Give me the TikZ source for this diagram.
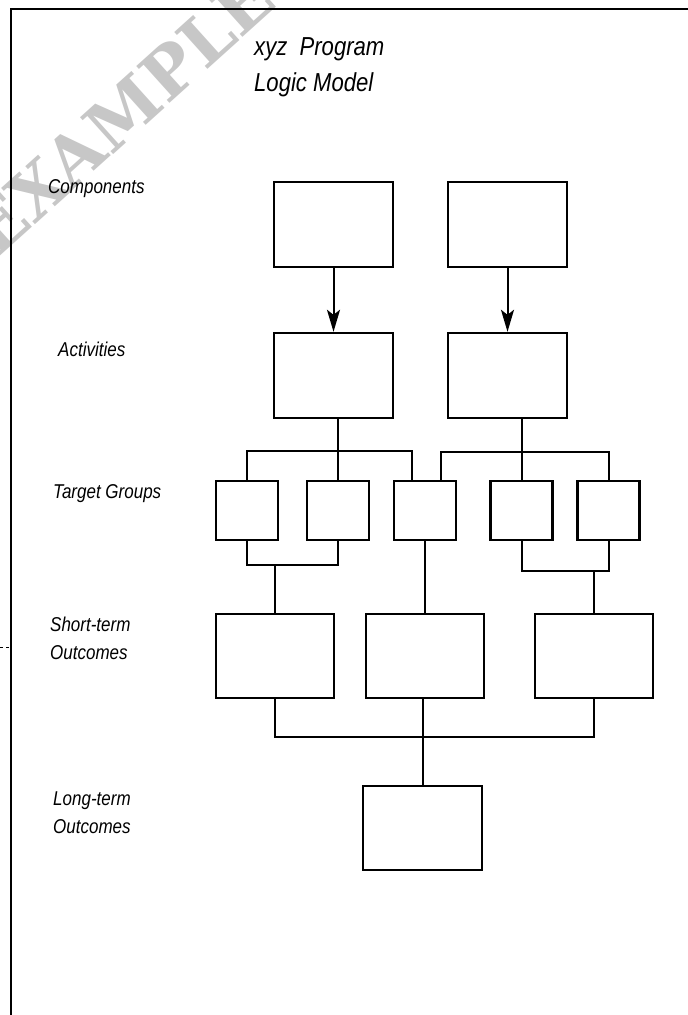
\documentclass[tikz,border=0pt]{standalone}
\usepackage{fontspec}
\usetikzlibrary{arrows.meta}
\newfontfamily\handfont{Liberation Sans}[FakeStretch=0.85]
\newfontfamily\stampfont{DejaVu Serif}
\tikzset{
	box/.style={draw, line width=2.4pt, minimum width=119pt, minimum height=85pt, inner sep=0pt},
	grp/.style={box, minimum width=62pt, minimum height=59pt},
	link/.style={line width=2pt},
	arrow/.style={link, -{Stealth[length=22pt,width=13pt,inset=5pt]}},
	rowname/.style={font=\handfont\itshape\fontsize{20}{28}\selectfont, inner sep=0pt, align=left},
}

\begin{document}
\begin{tikzpicture}[x=1pt,y=-1pt]
				\useasboundingbox (0,0) rectangle (688,1015);
				\clip (0,0) rectangle (688,1015);
				
				\node[rotate=42, text=black!22, font=\stampfont\bfseries\fontsize{68}{68}\selectfont] (stamp) at (121,114) {EXAMPLE};
				
				\draw[line width=2.6pt] (688,9) -- (11,9) -- (11,1015);
				\draw[dashed, line width=0.6pt] (0,647) -- (10,647);
				
				\node[rowname, anchor=north west, font=\handfont\itshape\fontsize{26}{36}\selectfont] (title) at (254,37) {xyz\ \ Program\\Logic Model};
				
				\node[rowname, anchor=base west] (rowcomp) at (48,193) {Components};
				\node[rowname, anchor=base west] (rowact) at (58,356) {Activities};
				\node[rowname, anchor=base west] (rowgrp) at (53,498) {Target Groups};
				\node[rowname, anchor=north west] (rowshort) at (50,617) {Short-term\\Outcomes};
				\node[rowname, anchor=north west] (rowlong) at (53,792) {Long-term\\Outcomes};
				
				\node[box] (comp1) at (333.5,224.5) {};
				\node[box] (comp2) at (507.5,224.5) {};
				\node[box] (act1) at (333.5,375.5) {};
				\node[box] (act2) at (507.5,375.5) {};
				
				\node[grp] (grp1) at (247,510.5) {};
				\node[grp] (grp2) at (338,510.5) {};
				\node[grp] (grp3) at (425,510.5) {};
				\node[grp] (grp4) at (521.5,510.5) {};
				\node[grp] (grp5) at (608.5,510.5) {};
				
				\node[box, minimum width=118pt, minimum height=84pt] (short1) at (275,656) {};
				\node[box, minimum width=118pt, minimum height=84pt] (short2) at (425,656) {};
				\node[box, minimum width=118pt, minimum height=84pt] (short3) at (594,656) {};
				
				\node[box, minimum height=84pt] (long1) at (422.5,828) {};
				
				\coordinate (barA) at (0,451);
				\coordinate (barB) at (0,452);
				\coordinate (barC) at (0,565);
				\coordinate (barD) at (0,571);
				\coordinate (barE) at (0,737);
				\coordinate (grp3l) at ([xshift=-13pt]grp3.north);
				\coordinate (grp3r) at ([xshift=16pt]grp3.north);
				
				\draw[arrow] (comp1) -- (act1);
				\draw[arrow] (comp2) -- (act2);
				
				\draw[link] (grp2.north) -- (grp2.north |- act1.south);
				\draw[link] (grp1.north) |- (grp3l |- barA) -- (grp3l);
				\draw[link] (grp4.north) -- (grp4.north |- act2.south);
				\draw[link] (grp3r) |- (grp5.north |- barB) -- (grp5.north);
				
				\draw[link] (grp1.south) |- (grp2.south |- barC) -- (grp2.south);
				\draw[link] (short1.north) -- (short1.north |- barC);
				\draw[link] (grp3) -- (short2);
				\draw[link] (grp4.south) |- (grp5.south |- barD) -- (grp5.south);
				\draw[link] (short3.north) -- (short3.north |- barD);
				
				\draw[link] (short1.south) |- (short3.south |- barE) -- (short3.south);
				\draw[link] (long1.north) -- (long1.north |- short2.south);
\end{tikzpicture}
\end{document}
